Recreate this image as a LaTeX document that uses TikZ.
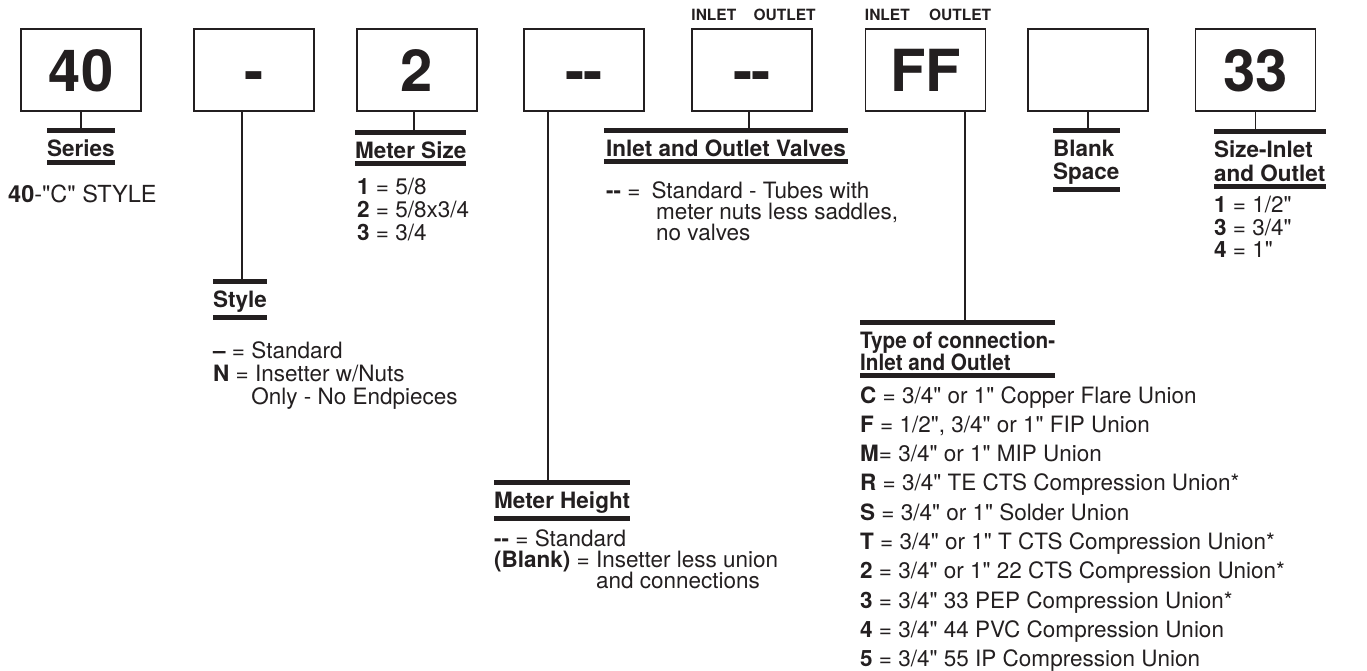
\documentclass[tikz,border=0pt]{standalone}
\usepackage{fontspec}
\setmainfont{TeX Gyre Heros}[Ligatures=TeXOff]
\newfontfamily\narrowfont{TeX Gyre Heros}[Ligatures=TeXOff, FakeStretch=0.92]
\usetikzlibrary{positioning}
\definecolor{ink}{RGB}{35,31,32}
\tikzset{
  codebox/.style={draw=ink, line width=1.5pt, minimum width=120pt, minimum height=82pt,
    text height=42pt, text depth=0pt, inner sep=0pt, font=\fontsize{58}{58}\selectfont\bfseries},
  iolabel/.style={inner sep=0pt, font=\fontsize{15.5}{16}\selectfont\bfseries},
  head/.style={anchor=north west, inner xsep=0pt, inner ysep=5pt, align=left,
    font=\fontsize{22.5}{23}\selectfont\bfseries},
  item/.style={anchor=north west, inner sep=0pt, align=left, font=\fontsize{22.5}{23}\selectfont},
  stem/.style={draw=ink, line width=1.5pt, shorten >=4.5pt},
  bar/.style={draw=ink, line width=5pt}
}
% thick rules above and below a heading
\newcommand\bars[1]{\draw[bar] ([yshift=4.5pt]#1.north west) -- ([yshift=4.5pt]#1.north east)
  (#1.south west) -- (#1.south east);}
\newcommand\dd{-\kern0pt-}

\begin{document}
\begin{tikzpicture}[x=1pt, y=-1pt, text=ink]
    \useasboundingbox (0,0) rectangle (1367,670);

    % code boxes
    \node[codebox] (series) at (81,70) {40};
    \node[codebox] (style) at (254,70) {-};
    \node[codebox] (size) at (417,70) {2};
    \node[codebox] (height) at (584,70) {-\kern-2pt-};
    \node[codebox] (valves) at (752,70) {-\kern-2pt-};
    \node[codebox] (conn) at (925.5,70) {FF};
    \node[codebox] (blank) at (1088,70) {};
    \node[codebox] (sizeio) at (1255.5,70) {33};

    \node[iolabel, anchor=base west] (valvesin) at ([yshift=7.5pt]valves.north west) {INLET};
    \node[iolabel, anchor=base east] (valvesout) at ([xshift=3pt, yshift=7.5pt]valves.north east) {OUTLET};
    \node[iolabel, anchor=base west] (connin) at ([yshift=7.5pt]conn.north west) {INLET};
    \node[iolabel, anchor=base east] (connout) at ([xshift=5pt, yshift=7.5pt]conn.north east) {OUTLET};

    % headings
    \node[head] (serieshd) at (47,135) {Series};
    \node[head] (stylehd) at (213,285.5) {Style};
    \node[head] (sizehd) at (355,136.5) {Meter Size};
    \node[head] (heighthd) at (494,486.5) {Meter Height};
    \node[head, inner xsep=2pt] (valveshd) at (604,134.5) {Inlet and Outlet Valves};
    \node[head, font=\narrowfont\fontsize{22.5}{22}\selectfont\bfseries] (connhd) at (860,326.5) {Type of connection-\\Inlet and Outlet};
    \node[head] (blankhd) at (1053,135) {Blank\\Space};
    \node[head, font=\fontsize{22.5}{24}\selectfont\bfseries] (sizeiohd) at (1214,135.5) {Size-Inlet\\and Outlet};
    \bars{serieshd} \bars{stylehd} \bars{sizehd} \bars{heighthd}
    \bars{valveshd} \bars{connhd} \bars{blankhd} \bars{sizeiohd}

    % stems
    \draw[stem] (series.south) -- (series.south |- serieshd.north);
    \draw[stem] ([xshift=-12pt]style.south) -- ([xshift=-12pt]style.south |- stylehd.north);
    \draw[stem] ([xshift=-3pt]size.south) -- ([xshift=-3pt]size.south |- sizehd.north);
    \draw[stem] ([xshift=-36pt]height.south) -- ([xshift=-36pt]height.south |- heighthd.north);
    \draw[stem] ([xshift=-3pt]valves.south) -- ([xshift=-3pt]valves.south |- valveshd.north);
    \draw[stem] ([xshift=39.5pt]conn.south) -- ([xshift=39.5pt]conn.south |- connhd.north);
    \draw[stem] (blank.south) -- (blank.south |- blankhd.north);
    \draw[stem] (sizeio.south) -- (sizeio.south |- sizeiohd.north);

    % option lists
    \node[item, font=\fontsize{23.5}{24}\selectfont] (seriestxt) at (8,185) {\textbf{40}-"C" STYLE};
    \node[item] (styletxt) at (213,341) {\textbf{\textendash} = Standard\\
      \textbf{N} = Insetter w/Nuts\\\phantom{\textbf{\textendash} = }Only - No Endpieces};
    \node[item] (sizetxt) at (357,178) {\textbf{1} = 5/8\\\textbf{2} = 5/8x3/4\\\textbf{3} = 3/4};
    \node[item, font=\fontsize{22.5}{21}\selectfont] (heighttxt) at (494,529) {\textbf{\dd} = Standard\\
      \textbf{(Blank)} = Insetter less union\\\phantom{\textbf{(Blank)} = }and connections};
    \node[item, font=\fontsize{22.5}{21}\selectfont] (valvestxt) at (606,181) {\textbf{\dd} =\hspace{11pt}Standard - Tubes with\\
      \hspace*{50pt}meter nuts less saddles,\\\hspace*{50pt}no valves};
    \node[item, font=\fontsize{22.5}{29.3}\selectfont] (conntxt) at (860,386) {\textbf{C} = 3/4" or 1" Copper Flare Union\\
      \textbf{F} = 1/2", 3/4" or 1" FIP Union\\
      \textbf{M}= 3/4" or 1" MIP Union\\
      \textbf{R} = 3/4" TE CTS Compression Union*\\
      \textbf{S} = 3/4" or 1" Solder Union\\
      \textbf{T} = 3/4" or 1" T CTS Compression Union*\\
      \textbf{2} = 3/4" or 1" 22 CTS Compression Union*\\
      \textbf{3} = 3/4" 33 PEP Compression Union*\\
      \textbf{4} = 3/4" 44 PVC Compression Union\\
      \textbf{5} = 3/4" 55 IP Compression Union};
    \node[item, font=\fontsize{22.5}{22.5}\selectfont] (sizeiotxt) at (1214,196) {\textbf{1} = 1/2"\\\textbf{3} = 3/4"\\\textbf{4} = 1"};
\end{tikzpicture}
\end{document}
